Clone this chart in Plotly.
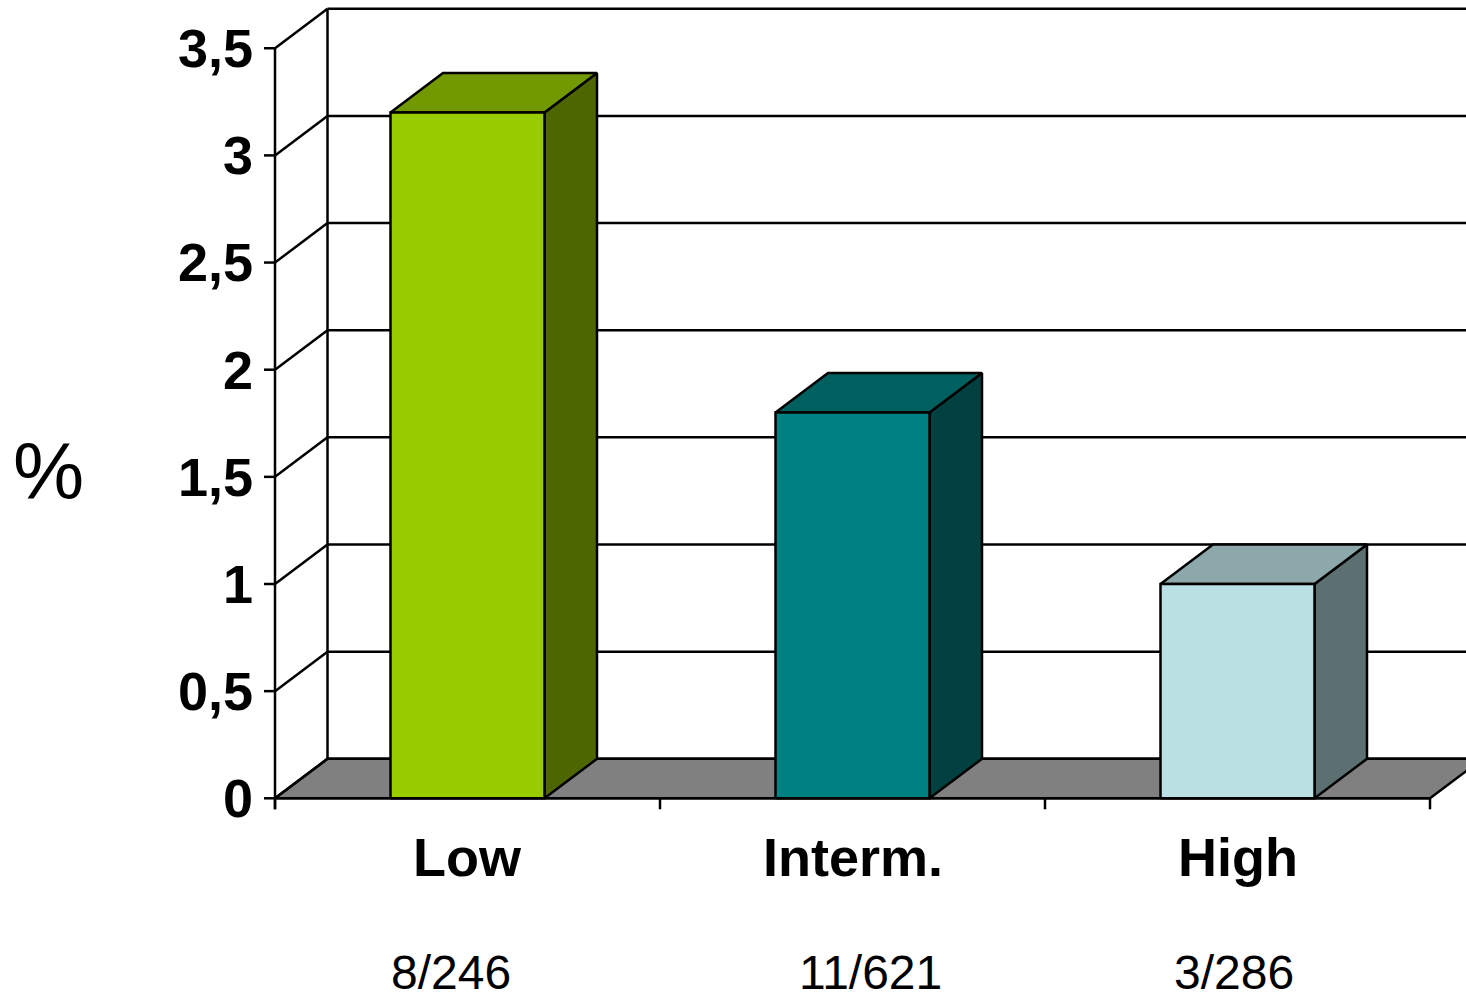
import plotly.graph_objects as go

# ---------------- data ----------------
CATEGORIES = ["Low", "Interm.", "High"]
VALUES = [3.2, 1.8, 1.0]
FRACTIONS = ["8/246", "11/621", "3/286"]
Y_TICKS = [0, 0.5, 1, 1.5, 2, 2.5, 3, 3.5]

FRONT_COLORS = ["#99CC00", "#008080", "#BAE0E3"]
TOP_COLORS = ["#739900", "#006060", "#8CA8AA"]
SIDE_COLORS = ["#4D6600", "#004040", "#5D7071"]
FLOOR_COLOR = "#808080"

# ---------------- layout geometry (pixels) ----------------
FIG_W, FIG_H = 1466, 997
PLOT_L, PLOT_T, PLOT_B = 262, 0, 815
X0_PX = 275.0          # front-left corner of category axis
PX_PER_CAT = 385.0
Y0_PX = 798.3          # value 0 on the front axis
PX_PER_UNIT = 214.3
DEPTH_DX_PX, DEPTH_DY_PX = 52.5, 39.5
BAR_WIDTH = 0.4        # fraction of a category
TICK_LEN_PX = 11
LW = 2.5

DX = DEPTH_DX_PX / PX_PER_CAT
DY = DEPTH_DY_PX / PX_PER_UNIT
TICK_LEN_X = TICK_LEN_PX / PX_PER_CAT
TICK_LEN_Y = TICK_LEN_PX / PX_PER_UNIT

XMIN = (PLOT_L - X0_PX) / PX_PER_CAT
XMAX = (FIG_W - X0_PX) / PX_PER_CAT
YMIN = (Y0_PX - PLOT_B) / PX_PER_UNIT
YMAX = (Y0_PX - PLOT_T) / PX_PER_UNIT


def px_to_paper_x(px):
    return (px - PLOT_L) / (FIG_W - PLOT_L)


def px_to_paper_y(py):
    return (PLOT_B - py) / (PLOT_B - PLOT_T)


FONT = "Liberation Sans, Arial, sans-serif"
N = len(CATEGORIES)

fig = go.Figure()


def add_poly(xs, ys, fill, width=LW):
    fig.add_trace(go.Scatter(
        x=list(xs) + [xs[0]], y=list(ys) + [ys[0]],
        mode="lines", fill="toself", fillcolor=fill,
        line=dict(color="black", width=width),
        hoverinfo="skip", showlegend=False))


def add_lines(segments, width=LW):
    xs, ys = [], []
    for (xa, ya), (xb, yb) in segments:
        xs += [xa, xb, None]
        ys += [ya, yb, None]
    fig.add_trace(go.Scatter(
        x=xs, y=ys, mode="lines",
        line=dict(color="black", width=width),
        hoverinfo="skip", showlegend=False))


# back wall gridlines + left edge of back wall
add_lines([((DX, v + DY), (XMAX + 1, v + DY)) for v in Y_TICKS]
          + [((DX, DY), (DX, Y_TICKS[-1] + DY))])

# floor
add_poly([0, N, N + DX, DX], [0, 0, DY, DY], FLOOR_COLOR)

# side wall diagonals, front value axis and its ticks
add_lines([((0, v), (DX, v + DY)) for v in Y_TICKS]
          + [((0, -TICK_LEN_Y), (0, Y_TICKS[-1]))]
          + [((-TICK_LEN_X, v), (0, v)) for v in Y_TICKS])

# bars
for i, v in enumerate(VALUES):
    c = i + 0.5
    l, r = c - BAR_WIDTH / 2, c + BAR_WIDTH / 2
    add_poly([r, r + DX, r + DX, r], [0, DY, v + DY, v], SIDE_COLORS[i])
    add_poly([l, r, r + DX, l + DX], [v, v, v + DY, v + DY], TOP_COLORS[i])
    add_poly([l, r, r, l], [0, 0, v, v], FRONT_COLORS[i])

# front edge of floor + category boundary ticks
add_lines([((0, 0), (N, 0))]
          + [((k, 0), (k, -TICK_LEN_Y)) for k in range(N + 1)])

annotations = []
# category labels
for i, name in enumerate(CATEGORIES):
    cx_px = X0_PX + (i + 0.5) * PX_PER_CAT
    annotations.append(dict(
        x=px_to_paper_x(cx_px), y=px_to_paper_y(857),
        xref="paper", yref="paper",
        text=name, showarrow=False, xanchor="center", yanchor="middle",
        font=dict(family=FONT, size=54, color="black", weight="bold")))

FRACTION_X_PX = [451, 870, 1234]
for i, txt in enumerate(FRACTIONS):
    annotations.append(dict(
        x=px_to_paper_x(FRACTION_X_PX[i]), y=px_to_paper_y(972),
        xref="paper", yref="paper",
        text=txt, showarrow=False, xanchor="center", yanchor="middle",
        font=dict(family=FONT, size=48, color="black")))

annotations.append(dict(
    x=px_to_paper_x(48), y=px_to_paper_y(471), xref="paper", yref="paper",
    text="%", showarrow=False, xanchor="center", yanchor="middle",
    font=dict(family=FONT, size=80, color="black")))

fig.update_layout(
    width=FIG_W, height=FIG_H,
    margin=dict(l=PLOT_L, r=0, t=PLOT_T, b=FIG_H - PLOT_B, pad=0),
    paper_bgcolor="white", plot_bgcolor="white",
    separators=",.",
    showlegend=False,
    annotations=annotations,
    xaxis=dict(range=[XMIN, XMAX], visible=False, fixedrange=True),
    yaxis=dict(range=[YMIN, YMAX], tickvals=Y_TICKS, ticks="",
               showgrid=False, zeroline=False, showline=False,
               automargin=False, fixedrange=True,
               ticklabelstandoff=8,
               tickfont=dict(family=FONT, size=54, color="black",
                             weight="bold")),
)

fig.write_html("out.html")
